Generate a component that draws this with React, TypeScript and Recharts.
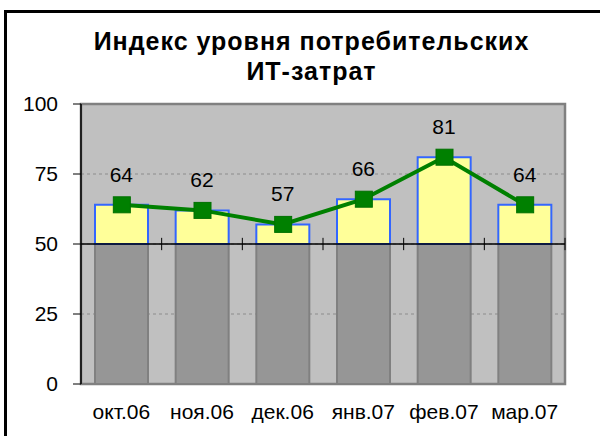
import React from 'react';
import {
  ComposedChart, Bar, Line, XAxis, YAxis, CartesianGrid, ReferenceLine, ReferenceArea, LabelList,
} from 'recharts';

const titleLines = ['Индекс уровня потребительских', 'ИТ-затрат'];
const months = ['окт.06', 'ноя.06', 'дек.06', 'янв.07', 'фев.07', 'мар.07'];
const values = [64, 62, 57, 66, 81, 64];
const baseLevel = 50;
const yTicks = [0, 25, 50, 75, 100];

const FONT = 'Arial, "Liberation Sans", sans-serif';

const data = months.map((m, i) => ({
  x: i + 0.5,
  month: m,
  value: values[i],
  base: baseLevel,
  top: values[i] - baseLevel,
}));
const xTicks = data.map((d) => d.x);
const boundaries = months.map((_, i) => i + 1);

const SquareDot = (props: any) => {
  const { cx, cy, index } = props;
  if (cx == null || cy == null) return <g key={`e${index}`} />;
  return <rect key={`d${index}`} x={cx - 8} y={cy - 8} width={17} height={16} fill="#008000" stroke="#007000" strokeWidth={1} />;
};

export default function App() {
  return (
    <div style={{ position: 'fixed', left: 0, top: 0, width: 600, height: 436, overflow: 'hidden', background: '#fff' }}>
      <div style={{ position: 'absolute', left: 4, top: 10, width: 700, height: 500, border: '3px solid #000', boxSizing: 'border-box' }} />
      <div style={{ position: 'absolute', left: 0, top: 0 }}>
        <ComposedChart width={600} height={436} data={data} margin={{ top: 104, right: 35, left: 0, bottom: 0 }}>
          <CartesianGrid fill="#c0c0c0" stroke="#8c8c8c" strokeDasharray="3 3" vertical={false} />
          <XAxis
            dataKey="x"
            type="number"
            domain={[0, 6]}
            ticks={xTicks}
            interval={0}
            tickFormatter={(v: number) => months[Math.floor(v)]}
            axisLine={false}
            tickLine={false}
            tickSize={0}
            tickMargin={20}
            height={52}
            tick={{ fill: '#000', fontSize: 21, fontFamily: FONT }}
          />
          <YAxis
            width={81}
            domain={[0, 100]}
            ticks={yTicks}
            interval={0}
            tickSize={8}
            tickMargin={15}
            axisLine={{ stroke: '#000', strokeWidth: 1.5 }}
            tickLine={{ stroke: '#000', strokeWidth: 1 }}
            tick={{ fill: '#000', fontSize: 21, fontFamily: FONT }}
          />
          <Bar dataKey="base" stackId="s" fill="#969696" stroke="#808080" strokeWidth={2} barSize={53} isAnimationActive={false} />
          <Bar dataKey="top" stackId="s" fill="#ffff99" stroke="#3366ff" strokeWidth={2} barSize={53} isAnimationActive={false} />
          <ReferenceArea x1={0} x2={6} y1={0} y2={100} fill="none" stroke="#808080" strokeWidth={2.5} />
          <ReferenceLine y={baseLevel} stroke="#000" strokeWidth={1.5} />
          {boundaries.map((b) => (
            <ReferenceLine key={b} segment={[{ x: b, y: baseLevel - 2.2 }, { x: b, y: baseLevel + 2.2 }]} stroke="#000" strokeWidth={1} />
          ))}
          <Line
            dataKey="value"
            stroke="#008000"
            strokeWidth={4}
            dot={SquareDot}
            activeDot={false}
            isAnimationActive={false}
          >
            <LabelList dataKey="value" position="top" offset={23} fill="#000" fontSize={21} fontFamily={FONT} />
          </Line>
        </ComposedChart>
      </div>
      <div style={{ position: 'absolute', left: 0.5, top: 27, width: 622, textAlign: 'center', fontFamily: FONT, fontWeight: 'bold', fontSize: 25, letterSpacing: 1, lineHeight: '29.5px', color: '#000' }}>
        {titleLines.map((l) => (<div key={l}>{l}</div>))}
      </div>
    </div>
  );
}
